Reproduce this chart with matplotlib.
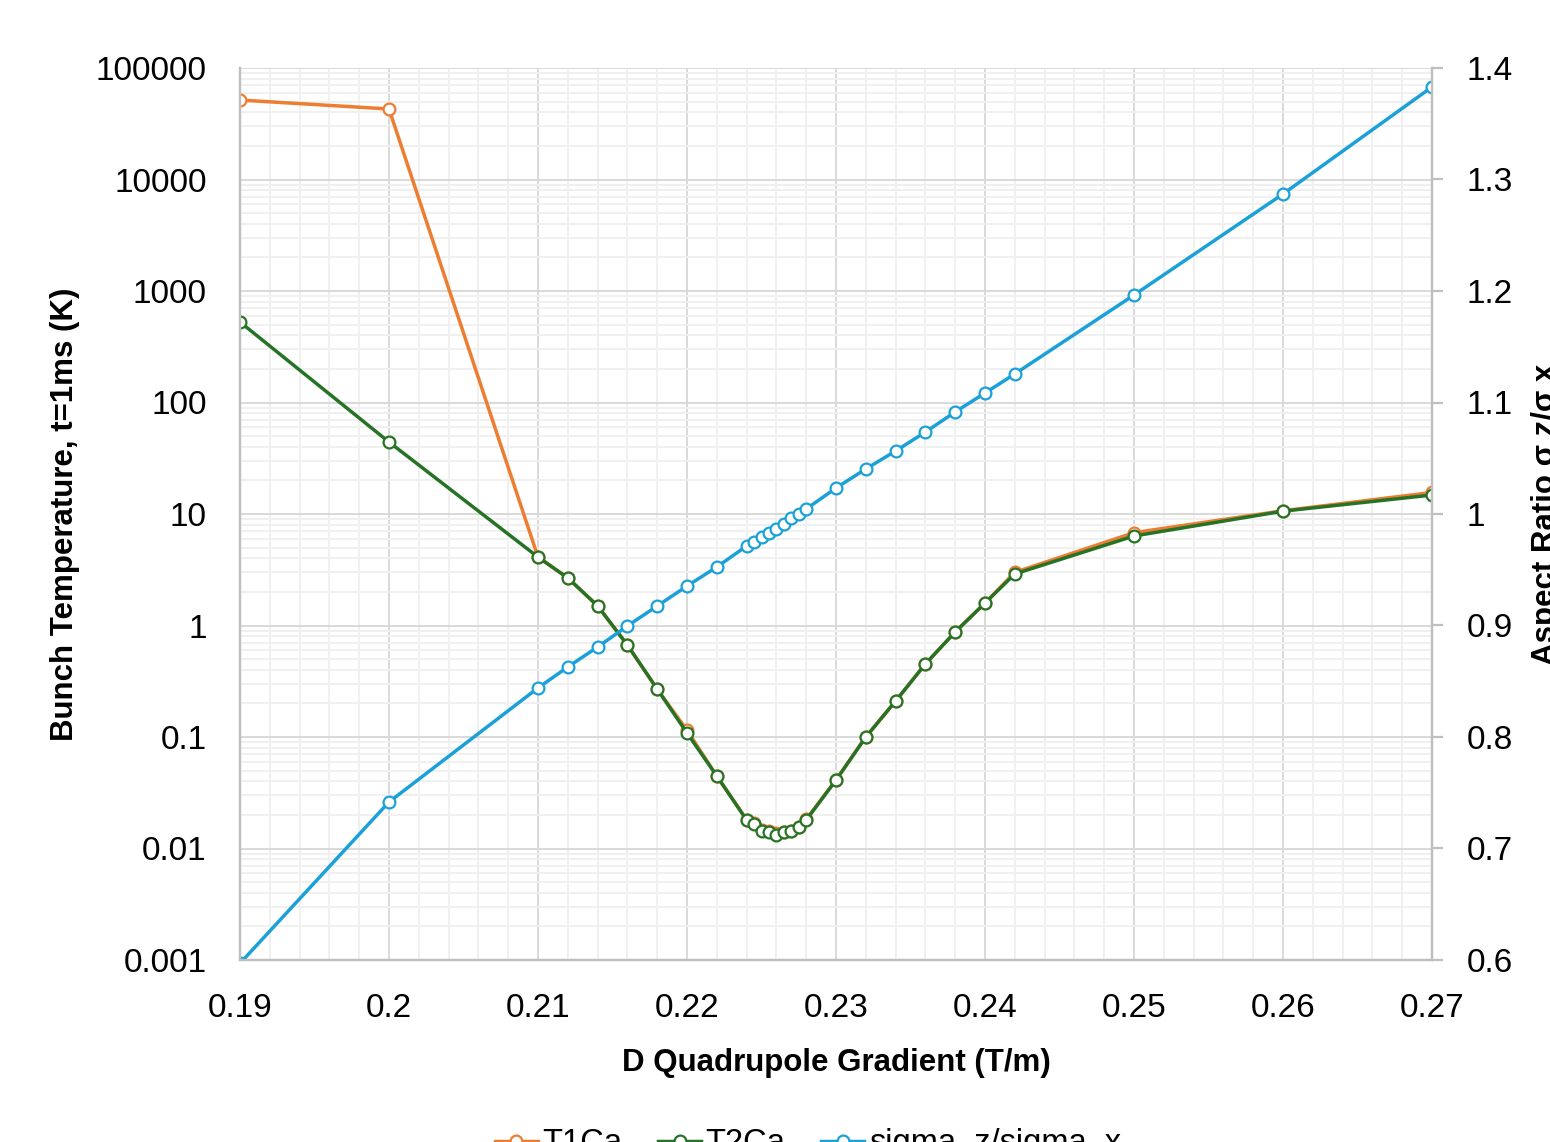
import matplotlib

matplotlib.use("Agg")
import matplotlib.pyplot as plt
from matplotlib.ticker import FixedLocator, FuncFormatter, LogLocator, NullFormatter, MultipleLocator

plt.rcParams["font.family"] = ["Liberation Sans", "DejaVu Sans"]

# gradient values (T/m)
grad = [0.19, 0.2, 0.21, 0.212, 0.214, 0.216, 0.218, 0.22, 0.222,
        0.224, 0.2245, 0.225, 0.2255, 0.226, 0.2265, 0.227, 0.2275, 0.228,
        0.23, 0.232, 0.234, 0.236, 0.238, 0.24, 0.242, 0.25, 0.26, 0.27]

# bunch temperature at t=1ms (K)
t1ca = [51600, 42900, 4.11, 2.67, 1.5, 0.668, 0.269, 0.115, 0.0447,
        0.0182, 0.0168, 0.0146, 0.0143, 0.0138, 0.0142, 0.0145, 0.0157, 0.0183,
        0.0411, 0.1, 0.21, 0.452, 0.875, 1.59, 3.0, 6.8, 10.7, 15.6]
t2ca = [527, 44.2, 4.11, 2.67, 1.5, 0.668, 0.269, 0.1087, 0.0447,
        0.018, 0.0166, 0.0144, 0.0141, 0.0132, 0.0141, 0.0144, 0.0156, 0.018,
        0.0411, 0.1, 0.21, 0.452, 0.875, 1.59, 2.9, 6.35, 10.6, 14.8]

# aspect ratio sigma_z / sigma_x
aspect = [0.597, 0.7417, 0.844, 0.8628, 0.8807, 0.8996, 0.9175, 0.9354, 0.9525,
          0.9713, 0.9749, 0.9794, 0.983, 0.9865, 0.991, 0.9964, 1.0, 1.0045,
          1.0233, 1.0404, 1.0565, 1.0735, 1.0915, 1.1085, 1.1256, 1.1964, 1.287, 1.383]

C_T1 = "#ED7D31"
C_T2 = "#267326"
C_AR = "#1BA1D8"
GRID_MAJ = "#d9d9d9"
GRID_MIN = "#f0f0f0"
SPINE = "#bfbfbf"

fig = plt.figure(figsize=(15.5, 11.42), dpi=100)
ax = fig.add_axes([240 / 1550, 1 - 960 / 1142, (1432 - 240) / 1550, (960 - 68) / 1142])
ax2 = ax.twinx()

mk = dict(marker="o", ms=8.5, mfc="white", mew=1.6, lw=2.5)
l1, = ax.plot(grad, t1ca, color=C_T1, label="T1Ca", **mk)
l2, = ax.plot(grad, t2ca, color=C_T2, label="T2Ca", **mk)
l3, = ax2.plot(grad, aspect, color=C_AR, label="sigma_z/sigma_x", **mk)

ax.set_yscale("log")
ax.set_xlim(0.19, 0.27)
ax.set_ylim(1e-3, 1e5)
ax2.set_ylim(0.6, 1.4)

ax.xaxis.set_major_locator(MultipleLocator(0.01))
ax.xaxis.set_minor_locator(MultipleLocator(0.002))
ax.xaxis.set_major_formatter(FuncFormatter(lambda v, p: f"{v:g}"))
ax.yaxis.set_major_locator(FixedLocator([10.0 ** k for k in range(-3, 6)]))
ax.yaxis.set_minor_locator(LogLocator(base=10, subs=range(2, 10), numticks=20))
ax.yaxis.set_major_formatter(FuncFormatter(lambda v, p: f"{v:g}"))
ax.yaxis.set_minor_formatter(NullFormatter())
ax2.yaxis.set_major_locator(MultipleLocator(0.1))
ax2.yaxis.set_major_formatter(FuncFormatter(lambda v, p: f"{v:g}"))

ax.grid(True, which="major", color=GRID_MAJ, lw=1.4)
ax.grid(True, which="minor", color=GRID_MIN, lw=1.4)
ax.set_axisbelow(True)

for a in (ax, ax2):
    a.spines["top"].set_visible(False)
    for side in ("left", "bottom", "right"):
        a.spines[side].set_color(SPINE)
        a.spines[side].set_linewidth(1.6)

ax.tick_params(axis="both", which="both", length=0, labelsize=24, pad=24)
ax.tick_params(axis="x", pad=24)
ax2.tick_params(axis="y", which="major", length=8, width=1.6, color=SPINE,
                labelsize=24, pad=17, direction="out")

ax.set_xlabel("D Quadrupole Gradient (T/m)", fontsize=22.5, fontweight="bold", labelpad=17)
ax.set_ylabel("Bunch Temperature, t=1ms (K)", fontsize=22.5, fontweight="bold", labelpad=11)
ax2.set_ylabel("Aspect Ratio σ z/σ x", fontsize=22.5, fontweight="bold", labelpad=13)

fig.legend(handles=[l1, l2, l3], loc="upper center", bbox_to_anchor=(808 / 1550, 1 - 1112 / 1142),
           ncol=3, frameon=False, fontsize=23.5, handlelength=1.3, handletextpad=0.15,
           columnspacing=1.1, borderpad=0)

fig.savefig("out.png", dpi=100)
